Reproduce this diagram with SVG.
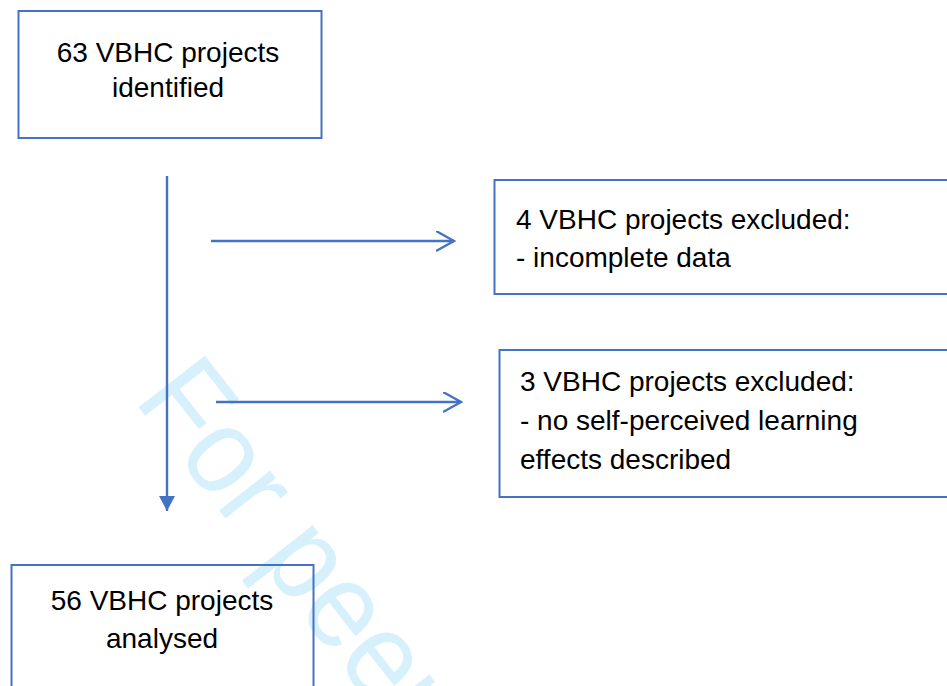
<svg xmlns="http://www.w3.org/2000/svg" width="947" height="686" viewBox="0 0 947 686">
<style>
.box{fill:none;stroke:#4472C4;stroke-width:2}
.t{font-family:"Liberation Sans",Arial,sans-serif;font-size:28px;fill:#000}
.c{text-anchor:middle}
.ln{stroke:#4472C4;stroke-width:2.4;fill:none}
.wm{font-family:"Liberation Sans",Arial,sans-serif;font-size:122px;fill:#d6f0fc}
</style>
<defs>
<marker id="open" markerWidth="20" markerHeight="24" refX="18" refY="10" orient="auto" markerUnits="userSpaceOnUse">
<path d="M0,0 L18,10 L0,20" fill="none" stroke="#4472C4" stroke-width="2.4"/>
</marker>
<marker id="solid" markerWidth="18" markerHeight="18" refX="15" refY="8" orient="auto" markerUnits="userSpaceOnUse">
<path d="M0,0 L15,8 L0,16 Z" fill="#4472C4"/>
</marker>
</defs>
<text class="wm" transform="translate(133,400) rotate(52) scale(0.93,1)">For peer review only</text>
<g id="connectors">
<line class="ln" x1="167" y1="176" x2="167" y2="511" marker-end="url(#solid)"/>
<line class="ln" x1="211" y1="241" x2="454" y2="241" marker-end="url(#open)"/>
<line class="ln" x1="216" y1="402" x2="461" y2="402" marker-end="url(#open)"/>
</g>
<g id="n1">
<rect class="box" x="18.5" y="11" width="303" height="127"/>
<text class="t c" x="168" y="62">63 VBHC projects</text>
<text class="t c" x="168" y="97">identified</text>
</g>
<g id="n2">
<rect class="box" x="494.5" y="180" width="460" height="114"/>
<text class="t" x="516" y="229">4 VBHC projects excluded:</text>
<text class="t" x="516" y="267">- incomplete data</text>
</g>
<g id="n3">
<rect class="box" x="499.5" y="350" width="460" height="147"/>
<text class="t" x="520" y="391">3 VBHC projects excluded:</text>
<text class="t" x="520" y="430">- no self-perceived learning</text>
<text class="t" x="520" y="469">effects described</text>
</g>
<g id="n4">
<rect class="box" x="11.5" y="565" width="302" height="140"/>
<text class="t c" x="162" y="610">56 VBHC projects</text>
<text class="t c" x="162" y="648">analysed</text>
</g>
</svg>
